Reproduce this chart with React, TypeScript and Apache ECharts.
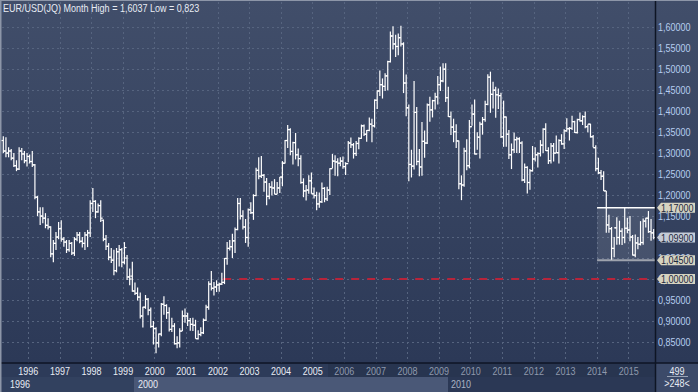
import React, { useEffect, useRef } from 'react';
import * as echarts from 'echarts';

const FONT = "'Liberation Sans', Arial, sans-serif";
const SX = 0.82; // narrow rendering of the platform font

// Monthly bars [open, high, low, close], Dec 1995 .. Dec 1999
const bars1995to1999 = [
  [1.330, 1.340, 1.300, 1.305], [1.305, 1.338, 1.290, 1.300], [1.300, 1.314, 1.290, 1.305],
  [1.305, 1.310, 1.283, 1.288], [1.288, 1.300, 1.267, 1.270], [1.270, 1.283, 1.257, 1.262],
  [1.262, 1.314, 1.260, 1.305], [1.305, 1.312, 1.283, 1.298], [1.298, 1.305, 1.276, 1.282],
  [1.282, 1.300, 1.268, 1.292], [1.292, 1.297, 1.275, 1.280], [1.280, 1.305, 1.267, 1.272],
  [1.272, 1.274, 1.190, 1.195], [1.195, 1.198, 1.150, 1.160], [1.160, 1.171, 1.129, 1.150],
  [1.150, 1.171, 1.133, 1.145], [1.145, 1.157, 1.121, 1.128], [1.128, 1.145, 1.118, 1.124],
  [1.124, 1.126, 1.052, 1.060], [1.060, 1.093, 1.040, 1.085], [1.085, 1.112, 1.069, 1.100],
  [1.100, 1.136, 1.095, 1.120], [1.120, 1.140, 1.089, 1.095], [1.095, 1.100, 1.077, 1.088],
  [1.088, 1.093, 1.062, 1.070], [1.070, 1.093, 1.065, 1.085], [1.085, 1.088, 1.057, 1.062],
  [1.062, 1.100, 1.055, 1.095], [1.095, 1.112, 1.090, 1.105], [1.105, 1.112, 1.085, 1.090],
  [1.090, 1.100, 1.075, 1.085], [1.085, 1.112, 1.069, 1.105], [1.105, 1.117, 1.076, 1.110],
  [1.110, 1.188, 1.100, 1.180], [1.180, 1.217, 1.160, 1.185], [1.185, 1.188, 1.145, 1.160],
  [1.160, 1.180, 1.158, 1.175], [1.175, 1.188, 1.136, 1.145], [1.140, 1.142, 1.090, 1.095],
  [1.095, 1.105, 1.069, 1.078], [1.078, 1.086, 1.045, 1.052], [1.052, 1.074, 1.038, 1.045],
  [1.045, 1.070, 1.009, 1.020], [1.020, 1.074, 1.016, 1.065], [1.065, 1.081, 1.030, 1.070],
  [1.070, 1.074, 1.028, 1.040], [1.040, 1.088, 1.035, 1.075], [1.050, 1.057, 0.998, 1.005],
  [1.005, 1.025, 0.985, 1.000],
];
const bars2000 = [
  [1.007, 1.0415, 0.970, 0.9715], [0.9715, 0.992, 0.962, 0.966], [0.966, 0.980, 0.949, 0.957],
  [0.957, 0.968, 0.906, 0.912], [0.912, 0.934, 0.8845, 0.933], [0.933, 0.962, 0.929, 0.952],
  [0.952, 0.955, 0.914, 0.926], [0.926, 0.932, 0.884, 0.887], [0.887, 0.900, 0.844, 0.882],
  [0.882, 0.885, 0.823, 0.848], [0.848, 0.870, 0.837, 0.869], [0.869, 0.943, 0.864, 0.940],
];
const bars2001 = [
  [0.940, 0.959, 0.915, 0.937], [0.937, 0.940, 0.905, 0.920], [0.920, 0.933, 0.875, 0.880],
  [0.880, 0.908, 0.874, 0.888], [0.888, 0.895, 0.844, 0.846], [0.846, 0.864, 0.835, 0.848],
  [0.848, 0.883, 0.837, 0.876], [0.876, 0.925, 0.876, 0.912], [0.912, 0.930, 0.896, 0.912],
  [0.912, 0.920, 0.888, 0.901], [0.901, 0.907, 0.877, 0.892], [0.892, 0.908, 0.876, 0.890],
];
const bars2002 = [
  [0.890, 0.903, 0.858, 0.858], [0.858, 0.878, 0.856, 0.868], [0.868, 0.885, 0.864, 0.872],
  [0.872, 0.906, 0.869, 0.902], [0.902, 0.939, 0.900, 0.933], [0.933, 0.995, 0.927, 0.988],
  [0.988, 1.019, 0.973, 0.978], [0.978, 0.993, 0.961, 0.981], [0.981, 0.997, 0.969, 0.986],
  [0.986, 0.991, 0.970, 0.988], [0.988, 1.015, 0.986, 0.992], [0.992, 1.050, 0.988, 1.049],
];
const bars2003 = [
  [1.049, 1.088, 1.034, 1.073], [1.073, 1.093, 1.068, 1.077], [1.077, 1.108, 1.050, 1.091],
  [1.091, 1.123, 1.062, 1.118], [1.118, 1.193, 1.116, 1.180], [1.180, 1.193, 1.142, 1.150],
  [1.150, 1.164, 1.118, 1.124], [1.124, 1.143, 1.086, 1.099], [1.099, 1.168, 1.077, 1.165],
  [1.165, 1.183, 1.155, 1.158], [1.158, 1.202, 1.141, 1.199], [1.199, 1.265, 1.197, 1.259],
];
const bars2004 = [
  [1.259, 1.290, 1.238, 1.245], [1.245, 1.293, 1.241, 1.247], [1.247, 1.250, 1.208, 1.231],
  [1.231, 1.241, 1.176, 1.197], [1.197, 1.229, 1.190, 1.219], [1.219, 1.233, 1.199, 1.217],
  [1.217, 1.238, 1.202, 1.202], [1.202, 1.231, 1.202, 1.217], [1.217, 1.243, 1.205, 1.243],
  [1.243, 1.281, 1.221, 1.276], [1.276, 1.331, 1.275, 1.330], [1.330, 1.367, 1.312, 1.356],
];
const bars2005 = [
  [1.356, 1.359, 1.295, 1.304], [1.304, 1.327, 1.273, 1.325], [1.325, 1.348, 1.285, 1.296],
  [1.296, 1.311, 1.269, 1.287], [1.287, 1.295, 1.227, 1.230], [1.230, 1.240, 1.195, 1.210],
  [1.210, 1.224, 1.187, 1.212], [1.212, 1.247, 1.203, 1.234], [1.234, 1.254, 1.203, 1.203],
  [1.203, 1.218, 1.192, 1.199], [1.199, 1.208, 1.164, 1.179], [1.179, 1.206, 1.170, 1.184],
];
const bars2006 = [
  [1.184, 1.230, 1.181, 1.216], [1.216, 1.219, 1.183, 1.191], [1.191, 1.220, 1.186, 1.212],
  [1.212, 1.264, 1.200, 1.263], [1.263, 1.298, 1.264, 1.281], [1.281, 1.295, 1.246, 1.279],
  [1.279, 1.288, 1.245, 1.276], [1.276, 1.290, 1.269, 1.281], [1.281, 1.292, 1.263, 1.268],
  [1.268, 1.278, 1.248, 1.275], [1.275, 1.329, 1.278, 1.324], [1.324, 1.337, 1.312, 1.320],
];
const bars2007 = [
  [1.320, 1.324, 1.287, 1.299], [1.299, 1.329, 1.293, 1.323], [1.323, 1.338, 1.309, 1.335],
  [1.335, 1.368, 1.334, 1.365], [1.365, 1.368, 1.341, 1.345], [1.345, 1.355, 1.327, 1.354],
  [1.354, 1.385, 1.352, 1.369], [1.369, 1.382, 1.326, 1.365], [1.365, 1.428, 1.361, 1.426],
  [1.426, 1.450, 1.405, 1.448], [1.448, 1.497, 1.436, 1.463], [1.463, 1.478, 1.430, 1.459],
];
const bars2008 = [
  [1.459, 1.490, 1.448, 1.484], [1.484, 1.520, 1.450, 1.518], [1.518, 1.590, 1.516, 1.579],
  [1.579, 1.602, 1.547, 1.560], [1.560, 1.582, 1.529, 1.554], [1.554, 1.585, 1.533, 1.575],
  [1.575, 1.6037, 1.554, 1.560], [1.560, 1.564, 1.443, 1.467], [1.467, 1.487, 1.388, 1.408],
  [1.408, 1.416, 1.233, 1.273], [1.273, 1.308, 1.242, 1.269], [1.269, 1.472, 1.261, 1.397],
];
const bars2009 = [
  [1.397, 1.410, 1.271, 1.280], [1.280, 1.310, 1.245, 1.267], [1.267, 1.374, 1.246, 1.328],
  [1.328, 1.354, 1.289, 1.324], [1.324, 1.418, 1.322, 1.415], [1.415, 1.434, 1.375, 1.403],
  [1.403, 1.427, 1.385, 1.425], [1.425, 1.444, 1.404, 1.434], [1.434, 1.484, 1.416, 1.463],
  [1.463, 1.506, 1.448, 1.472], [1.472, 1.514, 1.469, 1.500], [1.500, 1.514, 1.422, 1.432],
];
const bars2010 = [
  [1.432, 1.458, 1.386, 1.387], [1.387, 1.399, 1.343, 1.362], [1.362, 1.382, 1.326, 1.351],
  [1.351, 1.369, 1.312, 1.329], [1.329, 1.330, 1.214, 1.227], [1.227, 1.247, 1.188, 1.224],
  [1.224, 1.313, 1.220, 1.305], [1.305, 1.333, 1.259, 1.270], [1.270, 1.379, 1.264, 1.363],
  [1.363, 1.416, 1.365, 1.393], [1.393, 1.428, 1.297, 1.298], [1.298, 1.350, 1.308, 1.338],
];
const bars2011 = [
  [1.338, 1.375, 1.287, 1.369], [1.369, 1.386, 1.344, 1.380], [1.380, 1.425, 1.375, 1.416],
  [1.416, 1.488, 1.414, 1.481], [1.481, 1.494, 1.396, 1.440], [1.440, 1.470, 1.406, 1.450],
  [1.450, 1.458, 1.384, 1.439], [1.439, 1.454, 1.405, 1.437], [1.437, 1.444, 1.336, 1.339],
  [1.339, 1.425, 1.315, 1.386], [1.386, 1.387, 1.315, 1.345], [1.345, 1.355, 1.286, 1.296],
];
const bars2012 = [
  [1.296, 1.323, 1.262, 1.308], [1.308, 1.349, 1.300, 1.332], [1.332, 1.339, 1.300, 1.334],
  [1.334, 1.338, 1.300, 1.324], [1.324, 1.328, 1.233, 1.236], [1.236, 1.275, 1.229, 1.266],
  [1.266, 1.269, 1.204, 1.230], [1.230, 1.262, 1.213, 1.258], [1.258, 1.317, 1.256, 1.286],
  [1.286, 1.314, 1.280, 1.296], [1.296, 1.302, 1.266, 1.299], [1.299, 1.331, 1.292, 1.319],
];
const bars2013 = [
  [1.319, 1.359, 1.300, 1.357], [1.357, 1.371, 1.305, 1.306], [1.306, 1.314, 1.274, 1.282],
  [1.282, 1.324, 1.275, 1.317], [1.317, 1.324, 1.280, 1.300], [1.300, 1.342, 1.300, 1.301],
  [1.301, 1.333, 1.275, 1.330], [1.330, 1.345, 1.320, 1.322], [1.322, 1.357, 1.310, 1.353],
  [1.353, 1.383, 1.351, 1.358], [1.358, 1.362, 1.330, 1.359], [1.359, 1.389, 1.355, 1.375],
];
const bars2014 = [
  [1.375, 1.377, 1.348, 1.349], [1.349, 1.382, 1.347, 1.380], [1.380, 1.397, 1.375, 1.377],
  [1.377, 1.390, 1.367, 1.387], [1.387, 1.399, 1.359, 1.363], [1.363, 1.368, 1.350, 1.369],
  [1.369, 1.370, 1.337, 1.339], [1.339, 1.343, 1.314, 1.313], [1.313, 1.319, 1.257, 1.263],
  [1.263, 1.289, 1.250, 1.253], [1.253, 1.260, 1.236, 1.245], [1.245, 1.257, 1.210, 1.210],
];
const bars2015 = [
  [1.210, 1.210, 1.110, 1.129], [1.129, 1.153, 1.110, 1.120], [1.120, 1.124, 1.046, 1.073],
  [1.073, 1.100, 1.052, 1.122], [1.122, 1.147, 1.082, 1.099], [1.099, 1.139, 1.082, 1.114],
  [1.114, 1.121, 1.081, 1.099], [1.099, 1.1714, 1.085, 1.121], [1.121, 1.146, 1.109, 1.117],
  [1.117, 1.150, 1.090, 1.100], [1.100, 1.105, 1.056, 1.057], [1.057, 1.106, 1.052, 1.086],
];
const bars2016 = [
  [1.086, 1.100, 1.071, 1.083], [1.083, 1.138, 1.080, 1.087], [1.087, 1.144, 1.082, 1.138],
  [1.138, 1.146, 1.123, 1.145], [1.145, 1.162, 1.110, 1.113], [1.113, 1.143, 1.091, 1.110],
  [1.110, 1.119, 1.095, 1.099],
];

const allBars = [
  ...bars1995to1999, ...bars2000, ...bars2001, ...bars2002, ...bars2003, ...bars2004,
  ...bars2005, ...bars2006, ...bars2007, ...bars2008, ...bars2009, ...bars2010,
  ...bars2011, ...bars2012, ...bars2013, ...bars2014, ...bars2015, ...bars2016,
];

// month categories starting Dec 1995
const categories = allBars.map((_, i) => {
  const m = 11 + i;
  const y = 1995 + Math.floor(m / 12);
  return `${y}-${String((m % 12) + 1).padStart(2, '0')}`;
});

const TITLE = 'EUR/USD(JQ) Month High = 1,6037 Low = 0,823';
// year labels: text, category index whose left boundary carries the grid line
const yearLabels = [
  '1996', '1997', '1998', '1999', '2000', '2001', '2002', '2003', '2004', '2005',
  '2006', '2007', '2008', '2009', '2010', '2011', '2012', '2013', '2014', '2015',
];
const yearLabelIndex = yearLabels.map((_, k) => 10 + 12 * k);
const yTickValues = [0.85, 0.9, 0.95, 1.0, 1.05, 1.1, 1.15, 1.2, 1.25, 1.3, 1.35, 1.4, 1.45, 1.5, 1.55, 1.6];
const decadeLabels = [
  { text: '1996', x: 10, color: '#e8ecf4' },
  { text: '2000', x: 138, color: '#e8ecf4' },
  { text: '2010', x: 451, color: '#aab3c4' },
];
const BOX_START = 226;
const BOX_HIGH = 1.17;
const BOX_LOW = 1.045;
const PARITY_START = 84;
const PARITY = 1.0;
const LAST = 1.099;
const tags = [
  { v: BOX_HIGH, text: '1,17000', fill: '#d6d3c1' },
  { v: LAST, text: '1,09900', fill: '#c4cbd7' },
  { v: BOX_LOW, text: '1,04500', fill: '#d6d3c1' },
  { v: PARITY, text: '1,00000', fill: '#d6d3c1' },
];
const VISIBLE_BARS = '>248<';
const TOTAL_BARS = '499';

const W = 698, H = 392, PLOT_R = 655, PLOT_B = 363, ROW2 = 377;

function txt(text: string, x: number, y: number, fill: string, align = 'left', z = 10) {
  return {
    type: 'text', z, x, y, scaleX: SX,
    style: { text, fill, font: `11px ${FONT}`, align, verticalAlign: 'middle' },
  };
}

export default function App() {
  const ref = useRef<HTMLDivElement>(null);
  useEffect(() => {
    document.body.style.margin = '0';
    const chart = echarts.init(ref.current!, undefined, { renderer: 'svg' });
    const ohlc = allBars.map((b, i) => [i, b[0], b[1], b[2], b[3]]);
    const splitColors: string[] = [];
    for (let k = 0; k < 19; k++) splitColors.push(k >= 1 && k <= 16 ? '#56647f' : 'rgba(0,0,0,0)');
    chart.setOption({
      animation: false,
      backgroundColor: new echarts.graphic.LinearGradient(0, 0, 0, 1, [
        { offset: 0, color: '#414e6a' },
        { offset: 0.92, color: '#2c3957' },
        { offset: 1, color: '#2c3957' },
      ]),
      grid: { left: 2, right: W - PLOT_R, top: 2, bottom: H - PLOT_B },
      xAxis: {
        type: 'category',
        data: categories,
        boundaryGap: true,
        axisLine: { show: false },
        axisTick: { show: false },
        axisLabel: { show: false },
        splitLine: {
          show: true,
          interval: (i: number) => yearLabelIndex.indexOf(i) >= 0,
          lineStyle: { color: '#56647f', type: [2, 3], width: 1 },
        },
      },
      yAxis: {
        type: 'value',
        position: 'right',
        min: 0.8,
        max: 1.66,
        interval: 0.05,
        axisLine: { show: false },
        axisTick: { show: false },
        axisLabel: { show: false },
        splitLine: { show: true, lineStyle: { color: splitColors, type: [2, 3], width: 1 } },
      },
      series: [
        {
          type: 'custom',
          z: 1,
          silent: true,
          data: [[0, 1]],
          renderItem: (params: any, api: any) => {
            const half = api.size([1, 0])[0] / 2;
            const cs = params.coordSys;
            const right = cs.x + cs.width;
            const pT = api.coord([BOX_START, BOX_HIGH]);
            const pB = api.coord([BOX_START, BOX_LOW]);
            const bx = pT[0] - half;
            const pr = api.coord([PARITY_START, PARITY]);
            const rx = pr[0] - half;
            return {
              type: 'group',
              children: [
                { type: 'rect', shape: { x: bx, y: pT[1], width: right - bx, height: pB[1] - pT[1] }, style: { fill: 'rgba(255,255,255,0.10)' } },
                { type: 'line', shape: { x1: rx, y1: pr[1], x2: right, y2: pr[1] }, style: { stroke: '#b8243a', lineWidth: 2, lineDash: [8, 8] } },
                { type: 'line', shape: { x1: bx, y1: pB[1], x2: right, y2: pB[1] }, style: { stroke: '#9ea3ae', lineWidth: 2 } },
              ],
            };
          },
        },
        {
          type: 'custom',
          z: 3,
          silent: true,
          data: ohlc,
          encode: { x: 0, y: [1, 2, 3, 4] },
          renderItem: (params: any, api: any) => {
            const i = api.value(0);
            const pO = api.coord([i, api.value(1)]);
            const pH = api.coord([i, api.value(2)]);
            const pL = api.coord([i, api.value(3)]);
            const pC = api.coord([i, api.value(4)]);
            const x = pO[0];
            const st = { stroke: '#ffffff', lineWidth: 1.2 };
            return {
              type: 'group',
              children: [
                { type: 'line', shape: { x1: x, y1: pH[1], x2: x, y2: pL[1] }, style: st },
                { type: 'line', shape: { x1: x - 2, y1: pO[1], x2: x, y2: pO[1] }, style: st },
                { type: 'line', shape: { x1: x, y1: pC[1], x2: x + 2, y2: pC[1] }, style: st },
              ],
            };
          },
        },
        {
          type: 'custom',
          z: 4,
          silent: true,
          data: [[0, 1]],
          renderItem: (params: any, api: any) => {
            const half = api.size([1, 0])[0] / 2;
            const cs = params.coordSys;
            const right = cs.x + cs.width;
            const pT = api.coord([BOX_START, BOX_HIGH]);
            const bx = pT[0] - half;
            return { type: 'line', shape: { x1: bx, y1: pT[1], x2: right, y2: pT[1] }, style: { stroke: '#ffffff', lineWidth: 1.5 } };
          },
        },
      ],
    });

    const g: any[] = [
      { type: 'rect', z: -5, shape: { x: 0, y: PLOT_B, width: PLOT_R, height: H - PLOT_B }, style: { fill: '#2d3b59' } },
      { type: 'rect', z: -4, shape: { x: 328, y: PLOT_B, width: PLOT_R - 328, height: ROW2 - PLOT_B }, style: { fill: '#283550' } },
      { type: 'rect', z: -4, shape: { x: 0, y: ROW2, width: 134, height: H - ROW2 }, style: { fill: '#32415f' } },
      { type: 'rect', z: -4, shape: { x: 134, y: ROW2, width: 448 - 134, height: H - ROW2 }, style: { fill: '#4a5877' } },
      { type: 'rect', z: -4, shape: { x: 448, y: ROW2, width: PLOT_R - 448, height: H - ROW2 }, style: { fill: '#2b3855' } },
      { type: 'rect', z: -4, shape: { x: PLOT_R, y: PLOT_B, width: W - PLOT_R, height: H - PLOT_B }, style: { fill: '#3c4a69' } },
      { type: 'line', z: 10, shape: { x1: 0, y1: PLOT_B, x2: W, y2: PLOT_B }, style: { stroke: '#0e1524', lineWidth: 1.5 } },
      { type: 'line', z: 10, shape: { x1: PLOT_R + 0.5, y1: 0, x2: PLOT_R + 0.5, y2: H }, style: { stroke: '#0e1524', lineWidth: 1.5 } },
      { type: 'line', z: 10, shape: { x1: 0, y1: 0.5, x2: W, y2: 0.5 }, style: { stroke: '#8d96a8', lineWidth: 1 } },
      { type: 'rect', z: 10, shape: { x: 0, y: 0, width: 1.5, height: H }, style: { fill: '#8d96a8' } },
      txt(TITLE, 3, 8, '#e8ecf4'),
      txt(TOTAL_BARS, 677, 371, '#e8ecf4', 'center'),
      { type: 'line', z: 10, shape: { x1: 667, y1: 376.5, x2: 688, y2: 376.5 }, style: { stroke: '#9aa3b5', lineWidth: 1 } },
      txt(VISIBLE_BARS, 677, 383, '#e8ecf4', 'center'),
    ];
    decadeLabels.forEach((d) => g.push(txt(d.text, d.x, 384, d.color)));

    const c0 = chart.convertToPixel({ xAxisIndex: 0 }, 0) as number;
    const c1 = chart.convertToPixel({ xAxisIndex: 0 }, 1) as number;
    const half = (c1 - c0) / 2;
    yearLabels.forEach((t, k) => {
      const x = (chart.convertToPixel({ xAxisIndex: 0 }, yearLabelIndex[k]) as number) - half;
      const col = parseInt(t, 10) >= 2006 ? '#8f99ad' : '#e8ecf4';
      g.push(txt(t, x, 371, col, 'center'));
    });
    yTickValues.forEach((v) => {
      const y = chart.convertToPixel({ yAxisIndex: 0 }, v) as number;
      g.push(txt(v.toFixed(5).replace('.', ','), 658, y, '#b6cdef'));
    });
    tags.forEach((t) => {
      const y = chart.convertToPixel({ yAxisIndex: 0 }, t.v) as number;
      g.push({
        type: 'polygon', z: 20,
        shape: { points: [[657, y], [661, y - 5], [695, y - 5], [695, y + 5], [661, y + 5]] },
        style: { fill: t.fill },
      });
      g.push(txt(t.text, 661, y + 0.5, '#1c2940', 'left', 21));
    });
    chart.setOption({ graphic: g });
    return () => chart.dispose();
  }, []);
  return <div ref={ref} style={{ width: W, height: H }} />;
}
